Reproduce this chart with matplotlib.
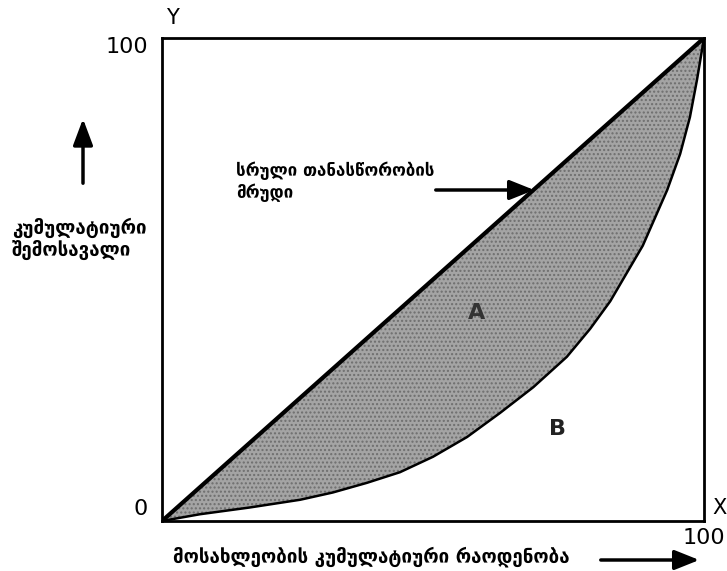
import matplotlib
matplotlib.use('Agg')
import matplotlib.pyplot as plt
import numpy as np

plt.rcParams['font.family'] = ['DejaVu Sans']

# Lorenz curve (% population, % income)
pop_share = [0, 7.0, 16.2, 25.5, 31.5, 37.8, 43.9, 50.0, 56.3, 62.4, 68.5, 74.7,
             79.0, 82.7, 88.7, 93.2, 95.6, 97.4, 98.7, 100]
income_share = [0, 1.4, 2.8, 4.4, 5.9, 7.9, 10.1, 13.3, 17.4, 22.4, 27.7, 34.0,
                39.8, 45.5, 57.0, 68.5, 76.0, 83.6, 91.3, 100]
equality = [0, 100]

y_label = "კუმულატიური\nშემოსავალი"
x_label = "მოსახლეობის კუმულატიური რაოდენობა"
eq_label = "სრული თანასწორობის\nმრუდი"

W, H = 727, 571


def fig_xy(px, py):
    # pixel position in the picture -> figure fraction
    return px / W, 1 - py / H


fig = plt.figure(figsize=(7.27, 5.71), dpi=100)
ax = fig.add_axes([162 / W, 1 - 521 / H, (704 - 162) / W, (521 - 38) / H])

x = np.array(pop_share)
y = np.array(income_share)

# shaded area A between the two curves
ax.fill_between(x, y, x, facecolor='#a4a4a4', edgecolor='#6e6e6e', hatch='....', linewidth=0)
ax.plot(x, y, color='black', linewidth=1.8)
ax.plot(equality, equality, color='black', linewidth=3)

ax.set_xlim(0, 100)
ax.set_ylim(0, 100)
ax.set_xticks([])
ax.set_yticks([])
for s in ax.spines.values():
    s.set_linewidth(2)

ax.text(58, 43, "A", fontsize=16, fontweight='bold', ha='center', va='center', color='#333333')
ax.text(73, 19, "B", fontsize=16, fontweight='bold', ha='center', va='center', color='#222222')

# corner labels
fig.text(*fig_xy(172, 18), "Y", fontsize=15, ha='center', va='center')
fig.text(*fig_xy(148, 47), "100", fontsize=16, ha='right', va='center')
fig.text(*fig_xy(141, 509), "0", fontsize=16, ha='center', va='center')
fig.text(*fig_xy(712, 508), "X", fontsize=15, ha='left', va='center')
fig.text(*fig_xy(683, 538), "100", fontsize=16, ha='left', va='center')

# y axis caption with arrow
fig.text(*fig_xy(12, 239), y_label, fontsize=13.5, fontweight='bold', ha='left', va='center',
         linespacing=1.15)
ax.annotate("", xy=fig_xy(83, 116), xytext=fig_xy(83, 186),
            xycoords='figure fraction', textcoords='figure fraction',
            arrowprops=dict(arrowstyle='-|>,head_length=1.6,head_width=0.6', color='black', lw=2.5))

# equality line caption with arrow
fig.text(*fig_xy(236, 182), eq_label, fontsize=12.2, fontweight='bold', ha='left', va='center',
         linespacing=1.25)
ax.annotate("", xy=fig_xy(537, 190), xytext=fig_xy(433, 190),
            xycoords='figure fraction', textcoords='figure fraction',
            arrowprops=dict(arrowstyle='-|>,head_length=1.5,head_width=0.6', color='black', lw=2.5))

# x axis caption with arrow
fig.text(*fig_xy(173, 557), x_label, fontsize=13.5, fontweight='bold', ha='left', va='center')
ax.annotate("", xy=fig_xy(702, 560), xytext=fig_xy(598, 560),
            xycoords='figure fraction', textcoords='figure fraction',
            arrowprops=dict(arrowstyle='-|>,head_length=1.5,head_width=0.6', color='black', lw=2.5))

fig.savefig('out.png', dpi=100)
